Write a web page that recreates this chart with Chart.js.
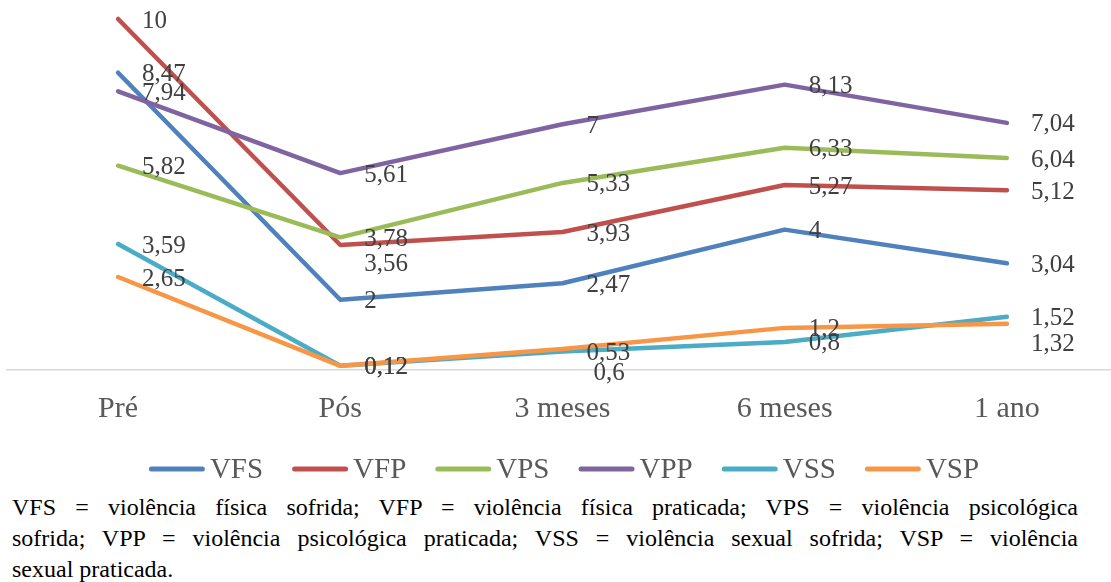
<!DOCTYPE html>
<html>
<head>
<meta charset="utf-8">
<script src="https://cdn.jsdelivr.net/npm/chart.js@4.4.1/dist/chart.umd.min.js"></script>
<style>
  body { margin: 0; background: #fff; overflow: hidden; width: 1111px; height: 582px; }
  #wrap { position: relative; width: 1119px; height: 490px; }
  #nota { position: absolute; left: 12px; top: 492px; width: 1066px;
          font-family: 'Times New Roman', 'Liberation Serif', 'DejaVu Serif', serif; font-size: 24px; line-height: 31px; color: #000; }
  #nota div { text-align: justify; text-align-last: justify; white-space: nowrap; }
  #nota div.last { text-align-last: left; }
</style>
</head>
<body>
<div id="wrap"><canvas id="grafico"></canvas></div>
<div id="nota">
  <div>VFS = violência física sofrida; VFP = violência física praticada; VPS = violência psicológica</div>
  <div>sofrida; VPP = violência psicológica praticada; VSS = violência sexual sofrida; VSP = violência</div>
  <div class="last">sexual praticada.</div>
</div>
<script>
const periodos = ['Pré', 'Pós', '3 meses', '6 meses', '1 ano'];

const series = ['VFS', 'VFP', 'VPS', 'VPP', 'VSS', 'VSP'];
const vfs = [8.47, 2, 2.47, 4, 3.04];
const vfp = [10, 3.56, 3.93, 5.27, 5.12];
const vps = [5.82, 3.78, 5.33, 6.33, 6.04];
const vpp = [7.94, 5.61, 7, 8.13, 7.04];
const vss = [3.59, 0.12, 0.53, 0.8, 1.52];
const vsp = [2.65, 0.12, 0.6, 1.2, 1.32];

const cores = ['#4F81BD', '#C0504D', '#9BBB59', '#8064A2', '#4BACC6', '#F79646'];
const valores = [vfs, vfp, vps, vpp, vss, vsp];

const fonte = '"Times New Roman", "Liberation Serif", "DejaVu Serif", serif';

// rótulos que foram deslocados à mão no original: "serie,ponto" -> [dx, dy]
const ajustes = {
  '1,1': [0, 17],
  '5,2': [7, 22],
  '5,4': [0, 19]
};

const rotulos = {
  id: 'rotulos',
  afterDatasetsDraw(chart) {
    const c = chart.ctx;
    c.save();
    c.font = '25px ' + fonte;
    c.fillStyle = '#404040';
    c.textAlign = 'left';
    c.textBaseline = 'middle';
    chart.data.datasets.forEach((ds, i) => {
      const meta = chart.getDatasetMeta(i);
      meta.data.forEach((pt, j) => {
        const aj = ajustes[i + ',' + j] || [0, 0];
        const txt = String(ds.data[j]).replace('.', ',');
        c.fillText(txt, pt.x + 24 + aj[0], pt.y + 2 + aj[1]);
      });
    });
    c.restore();
  }
};

const legenda = {
  id: 'legenda',
  afterDraw(chart) {
    const c = chart.ctx;
    c.save();
    c.font = '29px ' + fonte;
    const linha = 56, folga = 5, espaco = 29;
    const itens = chart.data.datasets.map(ds => ({ t: ds.label, cor: ds.borderColor, w: c.measureText(ds.label).width }));
    let total = itens.reduce((s, it) => s + linha + folga + it.w, 0) + espaco * (itens.length - 1);
    let x = 564 - total / 2;
    const y = 469;
    c.textBaseline = 'middle';
    c.lineCap = 'round';
    c.lineWidth = 5;
    itens.forEach(it => {
      c.strokeStyle = it.cor;
      c.beginPath();
      c.moveTo(x + 2.5, y);
      c.lineTo(x + linha - 2.5, y);
      c.stroke();
      c.fillStyle = '#595959';
      c.fillText(it.t, x + linha + folga, y + 1);
      x += linha + folga + it.w + espaco;
    });
    c.restore();
  }
};

new Chart(document.getElementById('grafico'), {
  type: 'line',
  data: {
    labels: periodos,
    datasets: series.map((nome, i) => ({
      label: nome,
      data: valores[i],
      borderColor: cores[i],
      backgroundColor: cores[i],
      borderWidth: 4.5,
      borderCapStyle: 'round',
      borderJoinStyle: 'round',
      pointRadius: 0,
      tension: 0,
      clip: false,
      order: series.length - i
    }))
  },
  options: {
    responsive: true,
    maintainAspectRatio: false,
    animation: false,
    layout: { padding: { top: 19, left: 7, right: 1, bottom: 70 } },
    plugins: { legend: { display: false }, tooltip: { enabled: false } },
    scales: {
      x: {
        offset: true,
        afterFit: s => { s.height = 50; },
        grid: { color: 'rgba(0,0,0,0)', drawTicks: false, offset: true },
        border: { display: true, color: '#d9d9d9', width: 1.5 },
        ticks: { font: { family: fonte, size: 30 }, color: '#595959', padding: 21 }
      },
      y: { display: false, min: 0, max: 10 }
    }
  },
  plugins: [rotulos, legenda]
});
</script>
</body>
</html>
